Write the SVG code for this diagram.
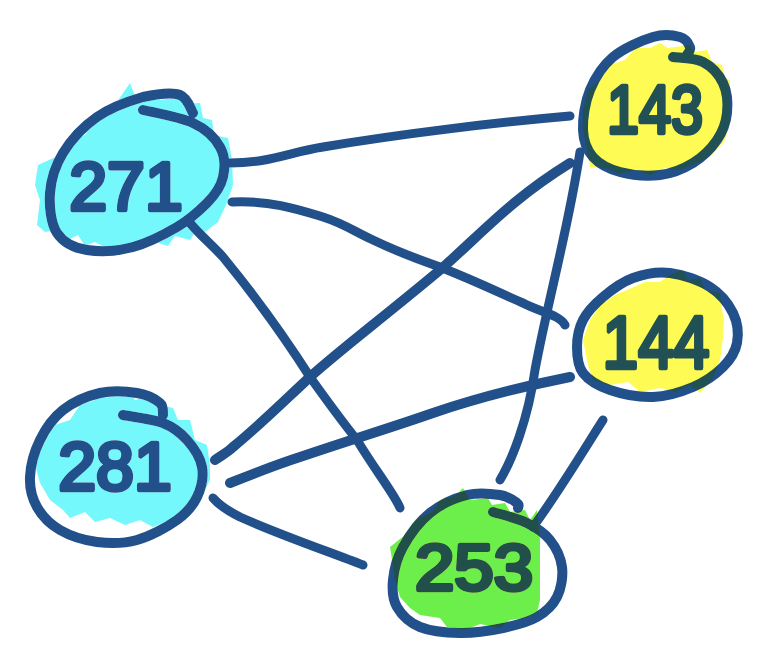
<svg xmlns="http://www.w3.org/2000/svg" width="778" height="660" viewBox="0 0 778 660">
<style>
.edge{fill:none;stroke:#21508a;stroke-width:9;stroke-linecap:round;stroke-linejoin:round}
.ring{fill:none;stroke:#21508a;stroke-width:10;stroke-linecap:round;stroke-linejoin:round}
.lbl{font-family:"Liberation Sans","DejaVu Sans",sans-serif;font-weight:normal;fill:#21508a;stroke:#21508a;stroke-width:4.5;stroke-linejoin:round;stroke-linecap:round;text-anchor:middle}
.hl{mix-blend-mode:darken}
.cyan{fill:#74f8fc}
.yellow{fill:#fffb55}
.green{fill:#6cef4a}
</style>
<rect width="778" height="660" fill="#ffffff"/>
<g id="connectors">
<path class="edge" d="M230,163 C270,163 290,152 323,147 C400,134 500,122 570,116"/>
<path class="edge" d="M232,202 C270,200 300,210 323,217 C345,224 355,232 373,240 C400,253 420,260 440,267 C480,283 500,293 523,303 C540,312 560,315 565,325"/>
<path class="edge" d="M190,223 C200,235 212,245 223,257 C250,290 280,330 310,377 C330,405 345,425 357,440 C375,470 395,495 400,508"/>
<path class="edge" style="stroke-width:10" d="M215,460 C222,455 228,452 233,447 C260,425 285,400 310,377 C340,350 380,320 440,270 C480,235 510,200 570,163"/>
<path class="edge" style="stroke-width:10" d="M230,483 C255,473 275,465 300,457 C350,440 390,428 433,413 C480,397 530,385 570,377"/>
<path class="edge" d="M213,498 C220,506 230,512 240,517 C280,535 330,552 363,565"/>
<path class="edge" d="M580,152 C568,230 548,300 535,370 C528,420 512,460 500,480"/>
<path class="edge" d="M603,420 C590,440 560,490 533,527"/>
</g>
<g id="node-271">
<path class="ring" d="M143,110 C151,112 180,117 193,123 C206,129 215,138 220,147 C225,156 225,168 223,177 C221,186 215,195 207,203 C199,211 189,220 177,227 C165,234 148,243 133,247 C118,251 100,252 87,250 C74,248 63,242 57,233 C51,224 49,206 50,193 C51,180 55,166 63,153 C71,140 84,126 97,117 C110,108 129,101 143,97 C157,94 172,92 180,95 C188,98 191,110 193,113"/>
<text class="lbl" x="126" y="210" font-size="68">271</text>
<path class="hl cyan" d="M130,83 L135,96 L158,92 L160,100 L180,97 L182,104 L200,103 L203,118 L212,120 L214,135 L228,138 L232,160 L233,185 L226,205 L218,222 L205,232 L198,228 L190,240 L175,236 L168,246 L155,242 L140,250 L120,244 L110,250 L95,242 L85,246 L78,235 L68,240 L58,230 L45,232 L37,225 L40,200 L35,185 L38,165 L60,155 L70,140 L85,135 L95,118 L110,112 Z"/>
</g>
<g id="node-281">
<path class="ring" d="M123,415 C129.7,416.3 152,419 163,423 C173.7,427.2 180.5,432.7 187,440 C193.5,447.3 200.3,457.5 202,467 C203.7,476.5 201.2,488.2 197,497 C192.8,505.8 187,512.8 177,520 C167,527.2 150.3,536.3 137,540 C123.7,543.7 109.8,543.7 97,542 C84.2,540.3 70,535.8 60,530 C50,524.2 42,515.8 37,507 C32,498.2 29.5,488.2 30,477 C30.5,465.8 34.5,451.2 40,440 C45.5,428.8 53,417.8 63,410 C73,402.2 87.7,395.8 100,393 C112.3,390.2 127,391.3 137,393 C147,394.7 155.7,399.3 160,403 C164.3,406.7 162.5,413 163,415"/>
<text class="lbl" x="115" y="490" font-size="68">281</text>
<path class="hl cyan" d="M100,387 L105,398 L130,392 L135,400 L155,395 L160,405 L173,408 L178,420 L190,420 L195,440 L207,445 L210,465 L210,480 L200,500 L185,515 L170,520 L153,527 L140,520 L125,525 L110,518 L95,522 L85,512 L70,518 L63,510 L50,500 L40,483 L35,465 L33,447 L45,440 L55,425 L70,420 L80,405 L95,400 Z"/>
</g>
<g id="node-143">
<path class="ring" d="M673,57 C678,57.8 694.7,57.7 703,62 C711.3,66.3 719,74.5 723,83 C727,91.5 728,103.5 727,113 C726,122.5 722.7,131.7 717,140 C711.3,148.3 702.5,157.2 693,163 C683.5,168.8 672.2,173.5 660,175 C647.8,176.5 631.2,175 620,172 C608.8,169 599.2,164 593,157 C586.8,150 583.5,141.2 583,130 C582.5,118.8 585,102.2 590,90 C595,77.8 602.5,65.8 613,57 C623.5,48.2 641.8,40.3 653,37 C664.2,33.7 673.8,35.3 680,37 C686.2,38.7 688.8,44 690,47 C691.2,50 687.5,53.7 687,55"/>
<text class="lbl" x="655" y="133" font-size="68" textLength="96" lengthAdjust="spacingAndGlyphs">143</text>
<path class="hl yellow" d="M660,43 L668,48 L690,45 L695,52 L707,50 L712,62 L722,65 L725,78 L730,80 L730,100 L730,120 L725,140 L712,155 L700,162 L680,170 L665,168 L650,175 L635,170 L620,174 L605,168 L590,167 L587,150 L583,130 L583,110 L588,90 L600,80 L610,65 L625,60 L635,48 L650,48 Z"/>
</g>
<g id="node-144">
<path class="ring" d="M603,297 C611.3,290 621.8,282 633,278 C644.2,274 657.2,271.5 670,273 C682.8,274.5 699.5,280.3 710,287 C720.5,293.7 728.5,303.7 733,313 C737.5,322.3 738.7,334 737,343 C735.3,352 730.3,359.7 723,367 C715.7,374.3 704.7,382 693,387 C681.3,392 666.8,396.5 653,397 C639.2,397.5 621.7,394 610,390 C598.3,386 588.5,380.2 583,373 C577.5,365.8 577,355.8 577,347 C577,338.2 578.7,328.3 583,320 C587.3,311.7 594.7,304 603,297 C611.3,290 621.8,282 633,278"/>
<text class="lbl" x="656" y="368" font-size="74" textLength="107" lengthAdjust="spacingAndGlyphs">144</text>
<path class="hl yellow" d="M683,270 L688,280 L700,278 L705,290 L720,293 L722,310 L724,320 L723,337 L720,360 L712,380 L700,393 L690,385 L675,392 L660,388 L640,392 L628,382 L610,385 L593,380 L588,365 L583,340 L590,320 L600,305 L615,295 L627,290 L645,282 L660,282 L670,275 Z"/>
</g>
<g id="node-253">
<path class="ring" d="M493,512 C498.7,513.8 517.5,518.3 527,523 C536.5,527.7 544.2,532.7 550,540 C555.8,547.3 560.8,557.5 562,567 C563.2,576.5 561.2,588.7 557,597 C552.8,605.3 546,611.8 537,617 C528,622.2 515.8,625.3 503,628 C490.2,630.7 473.8,633.2 460,633 C446.2,632.8 430.5,631.3 420,627 C409.5,622.7 401.5,614.8 397,607 C392.5,599.2 392,590 393,580 C394,570 396.8,558.2 403,547 C409.2,535.8 419.3,521.7 430,513 C440.7,504.3 455.3,498 467,495 C478.7,492 491.7,493.7 500,495 C508.3,496.3 514,500.8 517,503 C520,505.2 517.8,507.2 518,508"/>
<text class="lbl" x="474" y="590" font-size="64" textLength="118" lengthAdjust="spacingAndGlyphs">253</text>
<path class="hl green" d="M463,488 L470,500 L488,498 L492,505 L505,503 L510,512 L525,510 L530,520 L537,510 L540,540 L540,570 L540,600 L537,613 L525,618 L510,620 L500,628 L480,624 L465,630 L447,627 L440,618 L420,615 L410,608 L400,597 L395,580 L392,560 L390,547 L405,535 L415,520 L432,512 L440,500 L455,496 Z"/>
</g>
</svg>
